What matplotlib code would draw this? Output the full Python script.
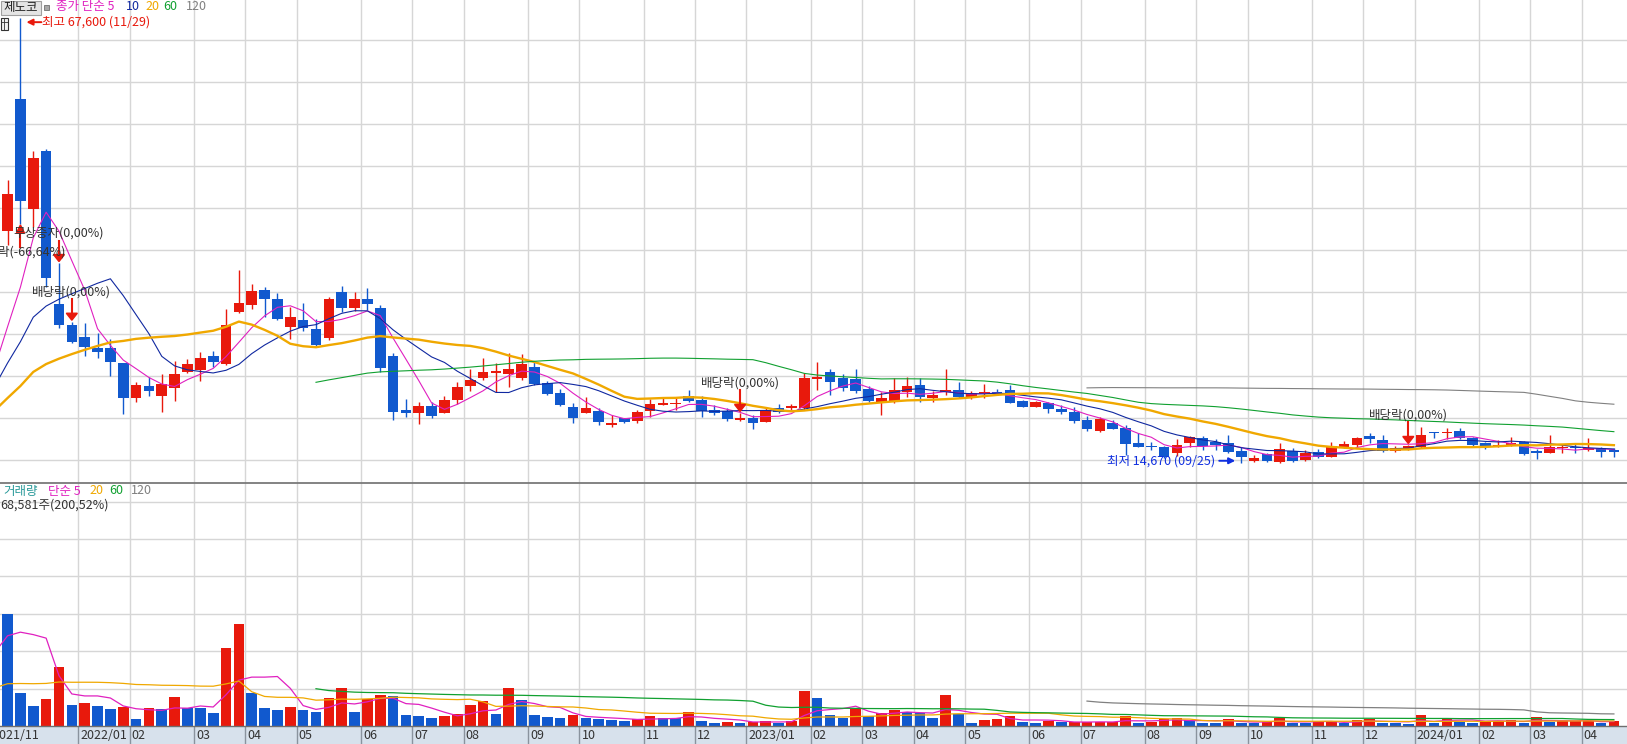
import numpy as np
import pandas as pd
import matplotlib
matplotlib.use("Agg")
import matplotlib.pyplot as plt
import matplotlib.transforms as mtransforms
from matplotlib.patches import Rectangle, Polygon
from matplotlib.lines import Line2D

plt.rcParams['font.family'] = ['Noto Sans CJK KR', 'DejaVu Sans']
plt.rcParams['font.size'] = 9

W, H = 1627, 744

# ---------------- data (weekly, first bar is the week of 2021-11-15) ----------------
stock_name = "제노코"
first_week = "2021-11-15"
holiday_shift = {"2022-01-31": "2022-02-03"}   # first trading day of that week

open_ = [28690, 42300, 57980, 44920, 51790, 33570, 31070, 29680, 28370, 28370,
         26580, 22420, 23850, 22650, 23610, 25510, 25710, 27380, 26430, 32650,
         33450, 35240, 34170, 30800, 31670, 30600, 29490, 35040, 33130, 34170,
         33100, 27420, 20950, 20630, 21430, 20630, 22140, 23850, 24730, 25390,
         25200, 24730, 26040, 24130, 23010, 21270, 20560, 20830, 19170, 19960,
         19680, 20870, 21550, 21630, 22620, 22140, 20950, 20830, 19760, 20040,
         19560, 21150, 21150, 21230, 24610, 25510, 24730, 24610, 23420, 21750,
         22060, 23130, 23930, 22420, 23060, 23330, 22540, 22860, 23010, 23330,
         22020, 21350, 21750, 21070, 20750, 19760, 18490, 19440, 18770, 16990,
         16670, 16580, 15800, 16990, 17650, 17180, 16990, 16070, 14880, 15680,
         14730, 16070, 15000, 15990, 15390, 16510, 16790, 17860, 17380, 16110,
         16310, 16580, 18300, 18180, 18450, 17580, 17060, 16580, 16790, 17180,
         15920, 15870, 16370, 16400, 16190, 16390, 16010]
high = [42380, 48330, 67600, 51790, 52000, 38450, 31460, 31270, 30150, 29400,
        26580, 24320, 24920, 25240, 26780, 27020, 27860, 27980, 32940, 37620,
        35960, 35630, 34840, 33250, 33730, 31750, 34440, 35710, 35040, 35440,
        33450, 27700, 22260, 21940, 21940, 22620, 24320, 25800, 27110, 26510,
        27700, 27620, 26700, 24440, 23420, 21820, 22540, 21150, 20360, 20000,
        20950, 22220, 22540, 22540, 23330, 22620, 21550, 21150, 20600, 20360,
        21150, 21670, 21670, 25390, 26700, 25800, 25240, 25800, 23810, 23130,
        24730, 24850, 24730, 23250, 25830, 24320, 23250, 24010, 23420, 23930,
        22140, 22060, 21940, 21550, 21350, 20240, 20080, 19760, 19170, 18180,
        17180, 16670, 17460, 17860, 17860, 17460, 17970, 16580, 15590, 15800,
        17060, 16390, 16190, 16270, 17180, 17290, 17780, 18180, 17970, 16670,
        16790, 18890, 18340, 18770, 18770, 17740, 17180, 17380, 17780, 17260,
        16270, 17970, 16900, 16990, 17580, 16550, 16390]
low = [28690, 40600, 43100, 42740, 35600, 30710, 28890, 27380, 27110, 25040,
       20440, 21940, 22650, 20750, 22060, 25320, 24440, 26040, 26310, 32460,
       32940, 31990, 31670, 29400, 30390, 28420, 29290, 32650, 32740, 32860,
       25510, 19760, 20080, 19290, 19960, 20560, 21670, 23250, 24520, 23050,
       23660, 24520, 23930, 22740, 21430, 19370, 20560, 19170, 18960, 19370,
       19370, 20080, 21550, 20950, 21940, 20160, 20360, 19680, 19680, 18650,
       19560, 20560, 20950, 20950, 23330, 22740, 23250, 23010, 21940, 20360,
       21750, 22540, 21940, 21940, 22740, 22340, 22220, 22340, 22740, 21750,
       21270, 21270, 20560, 20480, 19440, 18490, 18370, 18650, 15590, 16510,
       16190, 15200, 15480, 16510, 16190, 16190, 15830, 14670, 14800, 14800,
       14700, 14800, 14920, 15200, 15320, 16390, 16580, 16990, 15990, 15990,
       16190, 16390, 17580, 17460, 17500, 16580, 16270, 16510, 16670, 15590,
       15080, 15800, 15800, 15800, 16110, 15390, 15390]
close = [42380, 46670, 45870, 50950, 36630, 31070, 29080, 28490, 27890, 26700,
         22340, 23930, 23250, 24010, 25240, 26430, 27140, 26700, 31070, 33730,
         35120, 34170, 31790, 31990, 30750, 28690, 34170, 33130, 34170, 33570,
         25920, 20750, 20560, 21430, 20280, 22140, 23730, 24520, 25510, 25600,
         25830, 26430, 24010, 22820, 21550, 19960, 21190, 19560, 19370, 19490,
         20750, 21670, 21750, 21820, 22060, 20830, 20560, 19880, 20040, 19440,
         20950, 20750, 21430, 24730, 24920, 24320, 23610, 23250, 22060, 22340,
         23330, 23810, 22540, 22740, 23330, 22540, 23010, 23010, 22860, 21820,
         21350, 21940, 21030, 20750, 19640, 18730, 19840, 18730, 16900, 16580,
         16510, 15390, 16790, 17700, 16700, 16790, 15920, 15390, 15200, 14920,
         16310, 14880, 15870, 15320, 16670, 16900, 17650, 17460, 16110, 16470,
         16670, 17970, 18180, 18340, 17580, 16790, 16580, 16790, 17060, 15710,
         15870, 16510, 16400, 16370, 16470, 15990, 15960]
volume = [3300000, 1501000, 441000, 267000, 365000, 789000, 281000, 308000, 267000, 227000,
          258000, 94000, 241000, 227000, 388000, 241000, 241000, 174000, 1043000, 1368000,
          441000, 241000, 214000, 254000, 214000, 187000, 378000, 508000, 187000, 357000,
          410000, 395000, 147000, 134000, 111000, 134000, 156000, 281000, 334000, 164000,
          508000, 348000, 147000, 124000, 111000, 147000, 111000, 90000, 80000, 67000,
          90000, 134000, 111000, 103000, 187000, 67000, 44000, 57000, 44000, 57000,
          67000, 44000, 67000, 468000, 374000, 147000, 111000, 223000, 134000, 178000,
          210000, 191000, 178000, 111000, 414000, 156000, 44000, 76000, 90000, 134000,
          57000, 44000, 67000, 48000, 51000, 53000, 56000, 59000, 134000, 44000,
          48000, 90000, 103000, 76000, 44000, 40000, 98000, 44000, 40000, 47000,
          103000, 44000, 40000, 57000, 61000, 44000, 76000, 90000, 44000, 40000,
          31000, 147000, 44000, 111000, 57000, 44000, 67000, 71000, 75000, 44000,
          120000, 57000, 61000, 65000, 70000, 34202, 68581]

# weeks before the visible window (only feed the moving averages)
pre_close = [16800, 17300, 17900, 17500, 17100, 16600, 16900, 17400, 17200, 16800,
             17000, 17600, 17300, 16900, 17100, 17000, 17200, 17500, 17900, 18300,
             18100, 18400, 18600, 18300, 18800, 19000, 20500, 21800, 23400, 22900,
             22550, 22300, 21600, 21400]
pre_volume = [1850000, 1200000, 760000, 640000, 520000, 480000, 610000, 450000, 390000, 420000,
              380000, 510000, 360000, 330000, 520000, 410000, 380000, 320000, 290000, 410000,
              350000, 300000, 280000, 330000, 450000, 390000, 310000, 360000, 420000, 300000,
              380000, 200000, 430000, 600000]

event_date = ["2021-11-29", "2021-12-20", "2021-12-27", "2022-12-26", "2023-12-25"]
event_name = ["권리락(-66,64%)", "무상증자(0,00%)", "배당락(0,00%)", "배당락(0,00%)", "배당락(0,00%)"]

price_ma = [5, 10, 20, 60, 120]
volume_ma = [5, 20, 60, 120]

assert len(open_) == len(high) == len(low) == len(close) == len(volume)

# ---------------- styles ----------------
RED = "#E8190C"
BLUE = "#1159CE"
MA_COL = {5: "#E020C0", 10: "#1028A0", 20: "#F0A800", 60: "#10A030", 120: "#808080"}
GRID = "#D6D6D6"
TXT = "#333333"

n = len(close)
x = np.arange(n)
dates = pd.date_range(first_week, periods=n, freq="7D")
dates = pd.DatetimeIndex([pd.Timestamp(holiday_shift.get(d.strftime("%Y-%m-%d"), d)) for d in dates])

o = np.array(open_, float); hi = np.array(high, float)
lo = np.array(low, float); c = np.array(close, float)
v = np.array(volume, float)

close_all = pd.Series(pre_close + close, dtype=float)
vol_all = pd.Series(pre_volume + volume, dtype=float)
npre = len(pre_close)

fig = plt.figure(figsize=(W / 100, H / 100), dpi=100)


def pane(top, bottom):
    return fig.add_axes([0, 1 - bottom / H, 1, (bottom - top) / H])


ax = pane(0, 483)
axv = pane(483, 726)
axb = pane(726, H)

XL = (0.41, 127.02)
P_TOP = 65000 + 40 / 42 * 5000
P_BOT = 65000 - (483 - 40) / 42 * 5000
V_TOP = (726 - 483) / 37.4 * 500000

for a in (ax, axv, axb):
    a.set_xlim(*XL)
    a.set_xticks([]); a.set_yticks([])
    for s in a.spines.values():
        s.set_visible(False)
ax.set_ylim(P_BOT, P_TOP)
axv.set_ylim(0, V_TOP)
axb.set_ylim(0, 1)
axb.set_facecolor("#D7E1EC")

# month boundaries
bounds = []
for i in range(1, n):
    if dates[i].month != dates[i - 1].month and i > 3:
        lab = dates[i].strftime("%Y/%m") if dates[i].month == 1 else dates[i].strftime("%m")
        bounds.append((i - 0.5, lab))

for b, lab in bounds:
    ax.axvline(b, color=GRID, lw=1, zorder=0)
    axv.axvline(b, color=GRID, lw=1, zorder=0)
    axb.axvline(b, color="#8A939E", lw=1)
    axb.text(b, 0.45, lab, color=TXT, va="center", ha="left", fontsize=9,
             transform=mtransforms.offset_copy(axb.transData, fig, x=2, y=0, units="dots"))
axb.text(0, 0.45, dates[0].strftime("%Y/%m"), color=TXT, va="center", ha="left", fontsize=9,
         transform=mtransforms.offset_copy(axb.transAxes, fig, x=-8, y=0, units="dots"))

for p in range(15000, 70000, 5000):
    ax.axhline(p, color=GRID, lw=1, zorder=0)
for q in np.arange(500000, V_TOP, 500000):
    axv.axhline(q, color=GRID, lw=1, zorder=0)

# candles
up = c >= o
col = np.where(up, RED, BLUE)
ppx = (P_TOP - P_BOT) / 483
ax.vlines(x, lo, hi, colors=col, lw=1.0, zorder=3)
body = np.maximum(np.abs(c - o), 1.6 * ppx)
ax.bar(x, body, bottom=np.minimum(o, c), width=0.83, color=col, lw=0, zorder=4)

for m in price_ma:
    ma = close_all.rolling(m).mean().values[npre:]
    ax.plot(x, ma, color=MA_COL[m], lw=1.7 if m == 20 else 0.8, zorder=5)

# volume (red when volume grew from the previous week)
vcol = np.where(vol_all.diff().values[npre:] > 0, RED, BLUE)
axv.bar(x, v, width=0.83, color=vcol, lw=0, zorder=3)
for m in volume_ma:
    ma = vol_all.rolling(m).mean().values[npre:]
    axv.plot(x, ma, color=MA_COL[m], lw=0.9, zorder=5)

# event markers
def disp(i, p):
    return ax.transData.transform((i, p))

ident = mtransforms.IdentityTransform()
for d, name in zip(event_date, event_name):
    i = dates.get_loc(pd.Timestamp(d))
    px, py = disp(i, hi[i])
    if H - py > 35:
        tip = py + 1.5
        tri = Polygon([(px - 5.5, tip + 7), (px + 5.5, tip + 7), (px, tip)], closed=True,
                      color=RED, transform=ident, zorder=7)
        ax.add_artist(tri)
        ax.add_artist(Line2D([px, px], [tip + 7, tip + 21], color=RED, lw=1.5, transform=ident, zorder=7))
        fig.text(px, tip + 28.5, name, transform=ident, ha="center", va="center", color=TXT, fontsize=9, zorder=8)
    else:
        px, py = disp(i, lo[i])
        tip = py - 1
        tri = Polygon([(px - 4, tip - 8), (px + 4, tip - 8), (px, tip)], closed=True,
                      color=RED, transform=ident, zorder=7)
        ax.add_artist(tri)
        ax.add_artist(Line2D([px, px], [tip - 8, tip - 22], color=RED, lw=1.5, transform=ident, zorder=7))
        fig.text(px, tip - 27, name, transform=ident, ha="center", va="center", color=TXT, fontsize=9, zorder=8)

# highest / lowest
ih = int(np.argmax(hi)); il = int(np.argmin(lo))
px, py = disp(ih, hi[ih])
ax.annotate("", xy=(px + 6, py - 4), xytext=(px + 21, py - 4), xycoords=ident, textcoords=ident,
            arrowprops=dict(arrowstyle="-|>", color=RED, lw=1.4, mutation_scale=9,
                            shrinkA=0, shrinkB=0), zorder=8)
fig.text(px + 22, py - 4, f"최고 {int(hi[ih]):,} ({dates[ih].strftime('%m/%d')})", transform=ident,
         ha="left", va="center", color=RED, fontsize=9)
px, py = disp(il, lo[il])
ax.annotate("", xy=(px - 6, py + 2), xytext=(px - 22, py + 2), xycoords=ident, textcoords=ident,
            arrowprops=dict(arrowstyle="-|>", color="#1030E0", lw=1.4, mutation_scale=9,
                            shrinkA=0, shrinkB=0), zorder=8)
fig.text(px - 26, py + 2, f"최저 {int(lo[il]):,} ({dates[il].strftime('%m/%d')})", transform=ident,
         ha="right", va="center", color="#1030E0", fontsize=9)

# panel borders
fig.add_artist(Line2D([0, 1], [1 - 483 / H] * 2, color="#7A7A7A", lw=1.3))
fig.add_artist(Line2D([0, 1], [1 - 726 / H] * 2, color="#6E6E6E", lw=1.0))


def ftext(xp, yp, s, **kw):
    fig.text(xp / W, 1 - yp / H, s, va="center", ha="left", fontsize=9, **kw)


# top-left legend
fig.add_artist(Rectangle((0.5 / W, 1 - 14.5 / H), 40 / W, 14 / H, transform=fig.transFigure,
                         facecolor="#E4E4E4", edgecolor="#A0A0A0", lw=0.8))
fig.text(20.5 / W, 1 - 7.5 / H, stock_name, ha="center", va="center", fontsize=9, color="#222222")
fig.add_artist(Rectangle((44 / W, 1 - 9.5 / H), 5 / W, 5 / H, transform=fig.transFigure,
                         facecolor="#A8A8A8", edgecolor="#707070", lw=0.6))
ftext(56, 6.5, "종가 단순 " + str(price_ma[0]), color=MA_COL[5])
for xp, m in zip([126, 145, 163, 186], price_ma[1:]):
    ftext(xp, 6.5, str(m), color=MA_COL[m])
fig.add_artist(Rectangle((0.5 / W, 1 - 30 / H), 7 / W, 12 / H, transform=fig.transFigure,
                         facecolor="#F2F2F2", edgecolor="#333333", lw=0.8))
fig.add_artist(Line2D([0.5 / W, 7.5 / W], [1 - 22 / H] * 2, color="#333333", lw=0.6))
fig.add_artist(Line2D([4 / W, 4 / W], [1 - 18 / H, 1 - 30 / H], color="#333333", lw=0.6))

# volume legend
ftext(3, 491, "거래량", color="#2A9A9A")
ftext(48, 491, "단순 " + str(volume_ma[0]), color=MA_COL[5])
for xp, m in zip([89, 109, 131], volume_ma[1:]):
    ftext(xp, 491, str(m), color=MA_COL[m])
ratio = f"{v[-1] / v[-2] * 100:.2f}".replace(".", ",")
ftext(0, 505, f"{int(v[-1]):,}주({ratio}%)", color=TXT)

fig.savefig("out.png", dpi=100)
